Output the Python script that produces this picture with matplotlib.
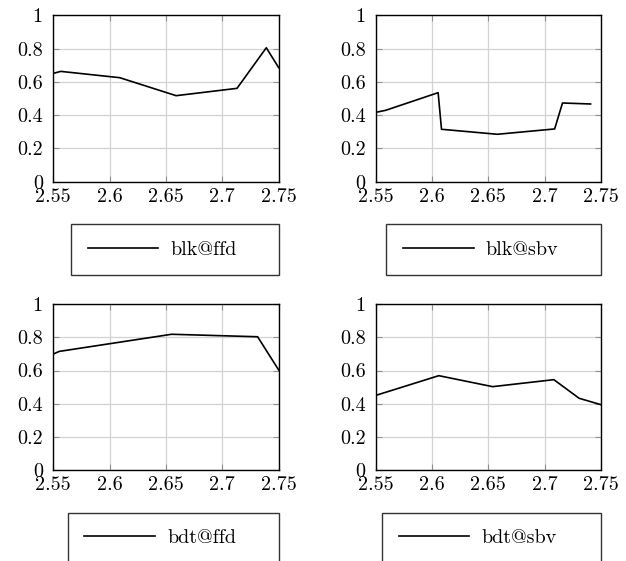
import matplotlib
matplotlib.use("Agg")
import matplotlib.pyplot as plt

plt.rcParams['font.family'] = ['cmr10', 'DejaVu Serif']
plt.rcParams['axes.formatter.use_mathtext'] = True

x_ticks = [2.55, 2.6, 2.65, 2.7, 2.75]
x_tick_labels = ["2.55", "2.6", "2.65", "2.7", "2.75"]
y_ticks = [0, 0.2, 0.4, 0.6, 0.8, 1.0]
y_tick_labels = ["0", "0.2", "0.4", "0.6", "0.8", "1"]

blk_ffd_x = [2.55, 2.5566, 2.609, 2.659, 2.713, 2.739, 2.75]
blk_ffd_y = [0.651, 0.663, 0.625, 0.517, 0.561, 0.805, 0.685]

blk_sbv_x = [2.55, 2.5586, 2.6053, 2.6083, 2.658, 2.709, 2.716, 2.741]
blk_sbv_y = [0.417, 0.429, 0.535, 0.315, 0.285, 0.317, 0.473, 0.467]

bdt_ffd_x = [2.55, 2.5553, 2.655, 2.7313, 2.75]
bdt_ffd_y = [0.699, 0.715, 0.818, 0.803, 0.603]

bdt_sbv_x = [2.55, 2.5586, 2.6059, 2.6538, 2.7083, 2.7308, 2.75]
bdt_sbv_y = [0.451, 0.469, 0.569, 0.503, 0.545, 0.433, 0.395]

labels = ["blk@ffd", "blk@sbv", "bdt@ffd", "bdt@sbv"]
series = [(blk_ffd_x, blk_ffd_y), (blk_sbv_x, blk_sbv_y),
          (bdt_ffd_x, bdt_ffd_y), (bdt_sbv_x, bdt_sbv_y)]

W, H = 626, 561
fig = plt.figure(figsize=(W / 100, H / 100), dpi=100)

positions = [
    (53.3, 15.3, 278.7, 181.7),
    (376.0, 15.3, 600.7, 181.7),
    (53.3, 304.0, 278.7, 470.3),
    (376.0, 304.0, 600.7, 470.3),
]
# legend box (left offset, width) in axes fraction
legend_boxes = [(0.0785, 0.9215), (0.046, 0.954), (0.064, 0.936), (0.027, 0.973)]

FS = 14.5
for (l, t, r, b), (xs, ys), lab, (lx, lw) in zip(positions, series, labels, legend_boxes):
    ax = fig.add_axes([l / W, 1 - b / H, (r - l) / W, (b - t) / H])
    ax.plot(xs, ys, color='black', lw=1.2, label=lab)
    ax.set_xlim(2.55, 2.75)
    ax.set_ylim(0, 1)
    ax.set_xticks(x_ticks)
    ax.set_xticklabels(x_tick_labels)
    ax.set_yticks(y_ticks)
    ax.set_yticklabels(y_tick_labels)
    ax.grid(True, color='#d3d3d3', lw=0.9)
    ax.set_axisbelow(True)
    ax.tick_params(direction='in', length=4, width=0.8, color='#909090',
                   labelsize=FS, top=True, right=True)
    ax.tick_params(axis='x', pad=4.5)
    ax.tick_params(axis='y', pad=7.5)
    for s in ax.spines.values():
        s.set_linewidth(1.0)
        s.set_color('black')
    leg = ax.legend(loc='upper left', bbox_to_anchor=(lx, -0.254, lw, 0.0),
                    mode='expand', fontsize=FS, frameon=True, fancybox=False,
                    borderpad=0.83, handlelength=3.5, handletextpad=0.6,
                    borderaxespad=0.0)
    leg.get_frame().set_edgecolor('black')
    leg.get_frame().set_linewidth(1.0)

fig.savefig("out.png", dpi=100)
